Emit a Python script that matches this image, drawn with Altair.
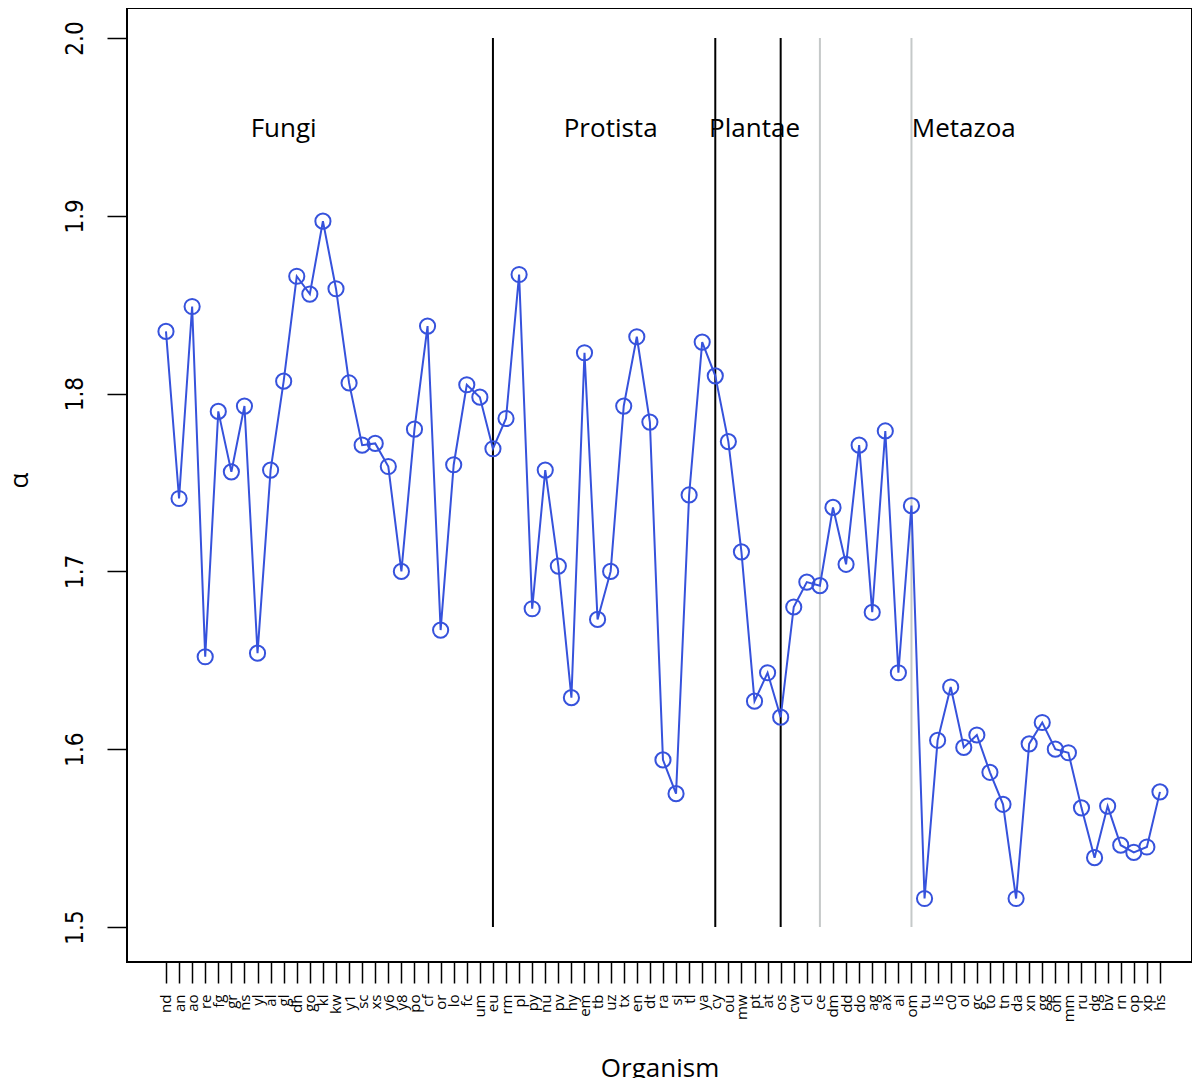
import altair as alt
import pandas as pd

organisms = ["nd","an","ao","re","fg","gr","ns","yl","al","gl","dh","go","kl","kw","y1","sc","xs","y6","y8","po","cf","or","lo","fc","um","eu",
             "rm","pl","py","nu","pv","hy","em","tb","uz","tx","en","dt","ra","sj","tl","ya","cy","ou","mw","pt","at","os",
             "cw","cl","ce","dm","dd","do","ag","ax","ai","om","tu","is","c0","ol","gc","to","tn","da","xn","gg","oh","mm","ru","dg","bv","rn","op","xp","hs"]
alpha = [1.835,1.741,1.849,1.652,1.790,1.756,1.793,1.654,1.757,1.807,1.866,1.856,1.897,1.859,1.806,1.771,1.772,1.759,1.700,1.780,1.838,1.667,1.760,1.805,1.798,1.769,
         1.786,1.867,1.679,1.757,1.703,1.629,1.823,1.673,1.700,1.793,1.832,1.784,1.594,1.575,1.743,1.829,1.810,1.773,1.711,1.627,1.643,1.618,
         1.680,1.694,1.692,1.736,1.704,1.771,1.677,1.779,1.643,1.737,1.516,1.605,1.635,1.601,1.608,1.587,1.569,1.516,1.603,1.615,1.600,1.598,1.567,1.539,1.568,1.546,1.542,1.545,1.576]

divider_orgs = ["eu", "cy", "os", "ce", "om"]
divider_colors = ["black", "black", "black", "#c5c9c9", "#c5c9c9"]

group_names = ["Fungi", "Protista", "Plantae", "Metazoa"]
group_pos = ["gl", "uz", "pt", "ol"]
group_y = [1.949, 1.949, 1.949, 1.949]

idx = {o: i for i, o in enumerate(organisms)}
df = pd.DataFrame({"org": organisms, "i": list(range(len(organisms))), "alpha": alpha})
rules_df = pd.DataFrame({"org": divider_orgs, "i": [idx[o] for o in divider_orgs],
                         "col": divider_colors, "y0": [1.5]*5, "y1": [2.0]*5})
text_df = pd.DataFrame({"org": group_pos, "i": [idx[o] for o in group_pos],
                        "name": group_names, "y": group_y})

BLUE = "#3652dc"
NARROW = "Liberation Sans Narrow, DejaVu Sans Condensed, Roboto, sans-serif"
label_array = "[" + ",".join("'" + o + "'" for o in organisms) + "]"

xscale = alt.Scale(domain=[-2.98, 78.45], nice=False, zero=False)
yscale = alt.Scale(domain=[1.4803, 2.0169], nice=False, zero=False)

X = alt.X("i:Q", scale=xscale, title="Organism",
          axis=alt.Axis(values=list(range(len(organisms))), tickCount=200,
                        labelExpr=label_array + "[datum.value]",
                        labelAngle=270, labelAlign="right", labelBaseline="middle",
                        labelFontSize=15, labelFont="Open Sans", labelPadding=11,
                        labelColor="black", tickSize=21, tickColor="black", tickWidth=1.5,
                        domain=False, grid=False, labelOverlap=False, labelFlush=False,
                        titleFont="Open Sans", titleFontSize=26, titleFontWeight="normal",
                        titleColor="black", titleY=106, titleBaseline="middle"))
Y = alt.Y("alpha:Q", scale=yscale, title="α",
          axis=alt.Axis(values=[1.5, 1.6, 1.7, 1.8, 1.9, 2.0], format=".1f", tickCount=20,
                        labelAngle=270, labelAlign="center", labelBaseline="bottom",
                        labelFontSize=24, labelFont=NARROW, labelPadding=20,
                        labelColor="black", tickSize=20, tickColor="black", tickWidth=1.5,
                        domain=False, grid=False, labelFlush=False, labelOverlap=False,
                        titleFont="Open Sans", titleFontSize=26, titleFontWeight="normal",
                        titleColor="black", titleAngle=270, titleX=-108, titleY=472,
                        titleAlign="center", titleBaseline="middle"))

line = alt.Chart(df).mark_line(color=BLUE, strokeWidth=2).encode(x=X, y=Y)
points = alt.Chart(df).mark_point(shape="circle", filled=False, size=230, strokeWidth=2,
                                  color=BLUE, opacity=1).encode(x=X, y=Y)
rules = alt.Chart(rules_df).mark_rule(strokeWidth=2).encode(
    x=alt.X("i:Q", scale=xscale),
    y=alt.Y("y0:Q", scale=yscale),
    y2="y1:Q",
    color=alt.Color("col:N", scale=None))
texts = alt.Chart(text_df).mark_text(font="Open Sans", fontSize=26, baseline="middle",
                                     align="center", color="black").encode(
    x=alt.X("i:Q", scale=xscale),
    y=alt.Y("y:Q", scale=yscale),
    text="name:N")

chart = alt.layer(rules, line, points, texts).properties(
    width=1065, height=954,
    autosize=alt.AutoSizeParams(type="none"),
    padding={"left": 119, "top": 0, "right": 0, "bottom": 116},
).configure_view(stroke="black", strokeWidth=2)

chart.save("out.html", embed_options={"renderer": "svg", "actions": False})
